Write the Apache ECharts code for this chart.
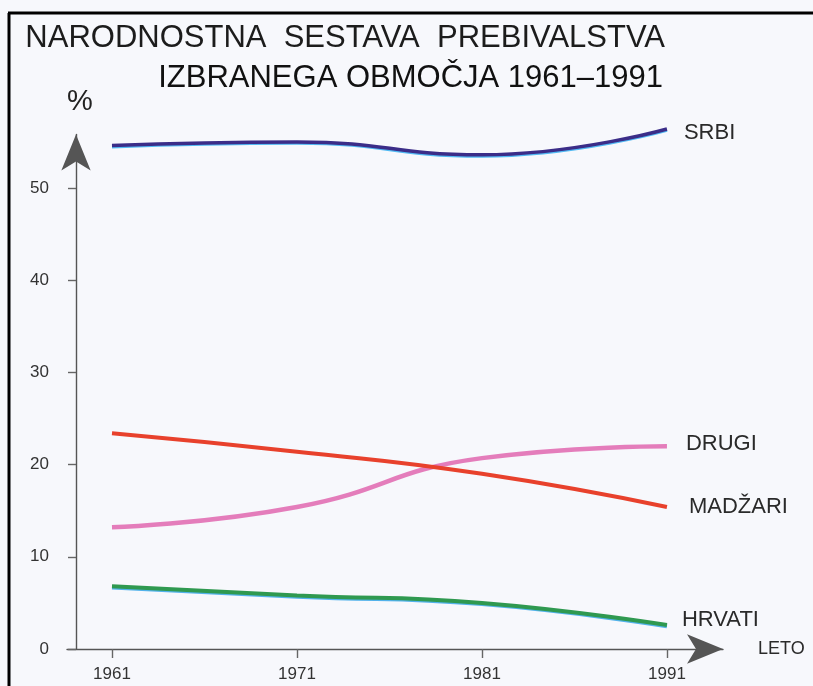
<!DOCTYPE html>
<html>
<head>
<meta charset="utf-8">
<script src="https://cdn.jsdelivr.net/npm/echarts@6/dist/echarts.min.js"></script>
<style>
    html, body {margin: 0; padding: 0; background: #f7f8fc;}
    #main {width: 813px; height: 686px;}
</style>
</head>
<body>
<div id="main"></div>
<script>
//leta
var years = [1961, 1971, 1981, 1991];
//delez prebivalstva v %
var srbi = [54.6, 55.0, 53.6, 56.4];
var drugi = [13.2, 15.4, 20.7, 22.0];
var madzari = [23.4, 21.4, 19.0, 15.4];
var hrvati = [6.8, 5.8, 5.0, 2.6];
//oznake na oseh
var yTicks = [0, 10, 20, 30, 40, 50];

function pairs(arr) {
    var out = [];
    for (var i = 0; i < years.length; i++) {
        out.push([years[i], arr[i]]);
    }
    return out;
}

var font = '"Liberation Sans", Arial, sans-serif';

function serie(name, arr, color, width, label) {
    return {
        name: name,
        type: 'line',
        data: pairs(arr),
        smooth: 0.5,
        symbol: 'none',
        clip: false,
        lineStyle: {
            color: color,
            width: width,
            shadowColor: label.shadow || 'rgba(0,0,0,0)',
            shadowOffsetY: label.shadow ? 1.2 : 0,
            shadowBlur: 0
        },
        endLabel: {
            show: true,
            formatter: '{a}',
            distance: label.distance,
            offset: [0, label.dy],
            fontFamily: font,
            fontSize: 22,
            color: '#2a2a2a'
        }
    };
}

var chart = echarts.init(document.getElementById('main'));

var option = {
    backgroundColor: '#f7f8fc',
    animation: false,
    title: [
        {
            text: 'NARODNOSTNA  SESTAVA  PREBIVALSTVA',
            right: 143,
            top: 18,
            textStyle: {fontFamily: font, fontSize: 31, fontWeight: 'normal', color: '#1c1c1c'}
        },
        {
            text: 'IZBRANEGA OBMOČJA 1961–1991',
            right: 145,
            top: 58,
            textStyle: {fontFamily: font, fontSize: 31, fontWeight: 'normal', color: '#111'}
        }
    ],
    grid: {left: 67, right: 90, top: 134.5, bottom: 37},
    xAxis: {
        type: 'value',
        min: 1958.568,
        max: 1994.03,
        name: 'LETO',
        nameLocation: 'end',
        nameGap: 35,
        nameTextStyle: {fontFamily: font, fontSize: 18, color: '#2a2a2a', padding: [0, 0, 12, 0]},
        splitLine: {show: false},
        axisLine: {
            symbol: ['none', 'arrow'],
            symbolSize: [22, 36],
            lineStyle: {color: '#555', width: 1.4}
        },
        axisTick: {
            customValues: years,
            length: 9,
            lineStyle: {color: '#666', width: 1.4}
        },
        axisLabel: {
            customValues: years,
            formatter: function (v) { return String(v); },
            margin: 17,
            fontFamily: font,
            fontSize: 17,
            color: '#333'
        }
    },
    yAxis: {
        type: 'value',
        min: 0,
        max: 55.8,
        offset: -9,
        name: '%',
        nameLocation: 'end',
        nameGap: 18,
        nameTextStyle: {fontFamily: font, fontSize: 29, color: '#222', padding: [0, 0, 0, 8]},
        splitLine: {show: false},
        axisLine: {
            symbol: ['none', 'arrow'],
            symbolSize: [22, 36],
            lineStyle: {color: '#555', width: 1.4}
        },
        axisTick: {
            customValues: yTicks,
            length: 8,
            lineStyle: {color: '#666', width: 1.4}
        },
        axisLabel: {
            customValues: yTicks,
            margin: 27,
            fontFamily: font,
            fontSize: 17,
            color: '#333'
        }
    },
    series: [
        serie('SRBI', srbi, '#3b2d88', 3.5, {distance: 17, dy: 4, shadow: 'rgba(40,170,240,0.8)'}),
        serie('DRUGI', drugi, '#e47dbb', 4.5, {distance: 19, dy: -2}),
        serie('MADŽARI', madzari, '#e8412c', 4, {distance: 22, dy: 0}),
        serie('HRVATI', hrvati, '#2f9950', 4, {distance: 15, dy: -5, shadow: 'rgba(40,160,230,0.8)'})
    ],
    graphic: [
        //okvir
        {type: 'line', shape: {x1: 8, y1: 13, x2: 813, y2: 13}, style: {stroke: '#000', lineWidth: 3}},
        {type: 'line', shape: {x1: 9, y1: 13, x2: 9, y2: 686}, style: {stroke: '#000', lineWidth: 3}}
    ]
};

chart.setOption(option);
</script>
</body>
</html>
